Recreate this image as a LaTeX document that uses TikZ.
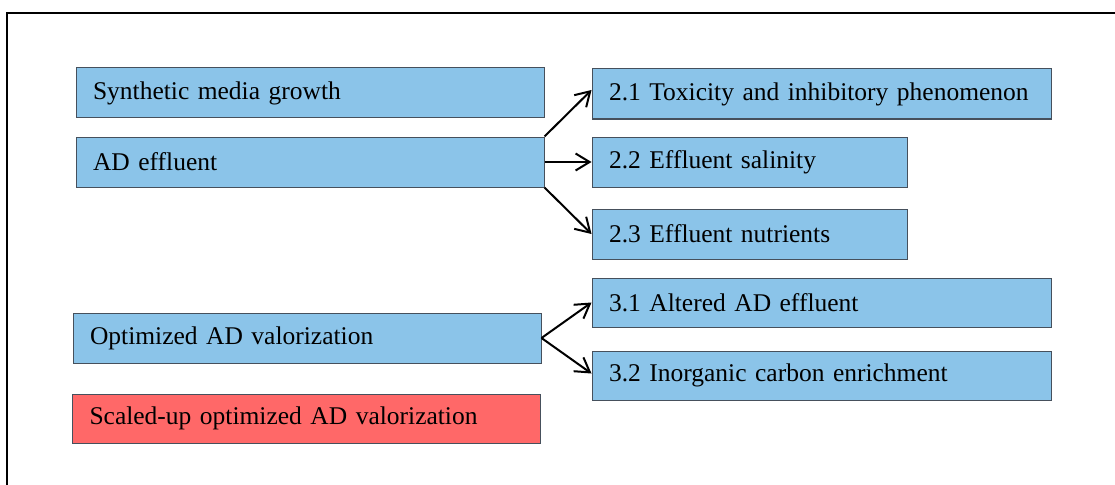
\documentclass[tikz,border=0pt]{standalone}
\usepackage{fontspec}
\setmainfont{Liberation Serif}
\usetikzlibrary{arrows.meta,positioning}

\definecolor{boxblue}{RGB}{139,196,233}
\definecolor{boxred}{RGB}{255,104,104}
\definecolor{boxline}{RGB}{70,80,92}

\newcommand{\stagefont}{\fontsize{25.5}{30}\selectfont\hyphenpenalty=10000\relax}

\begin{document}
\begin{tikzpicture}[
  x=1pt, y=-1pt,
  >={Straight Barb[length=14pt,width=17pt]},
  every node/.style={font=\stagefont},
  stage/.style={rectangle, draw=boxline, line width=1pt, fill=boxblue, minimum height=50pt, inner xsep=17pt, inner ysep=0pt, align=left},
  wide/.style={stage, text width=434pt},
  longsub/.style={stage, text width=425pt},
  shortsub/.style={stage, text width=281pt},
  link/.style={->, line width=2pt}
]
  \useasboundingbox (0,0) rectangle (1115,484);
  \clip (0,0) rectangle (1115,484);
  \draw[line width=2pt] (7,13) rectangle (1140,520);

  % left column
  \node[wide] (synth) at (310,93) {Synthetic media growth};
  \node[wide] (adeff) at (310,162) {AD effluent};
  \node[wide] (optim) at (307,338) {Optimized AD valorization};
  \node[wide, fill=boxred, minimum height=49pt] (scaled) at (306.5,418.5) {Scaled-up optimized AD valorization};

  % right column
  \node[longsub] (tox) at (821.5,94) {2.1 Toxicity and inhibitory phenomenon};
  \node[shortsub] (sal) at (749.5,162) {2.2 Effluent salinity};
  \node[shortsub] (nut) at (749.5,234) {2.3 Effluent nutrients};
  \node[longsub, minimum height=49pt] (alt) at (821.5,302.5) {3.1 Altered AD effluent};
  \node[longsub, minimum height=49pt] (inorg) at (821.5,375.5) {3.2 Inorganic carbon enrichment};

  \draw[link] (adeff.north east) -- ([yshift=4pt]tox.west);
  \draw[link] (adeff.east) -- (sal.west);
  \draw[link] (adeff.south east) -- (nut.west);
  \draw[link] (optim.east) -- (alt.west);
  \draw[link] (optim.east) -- ([yshift=2pt]inorg.west);
\end{tikzpicture}
\end{document}
